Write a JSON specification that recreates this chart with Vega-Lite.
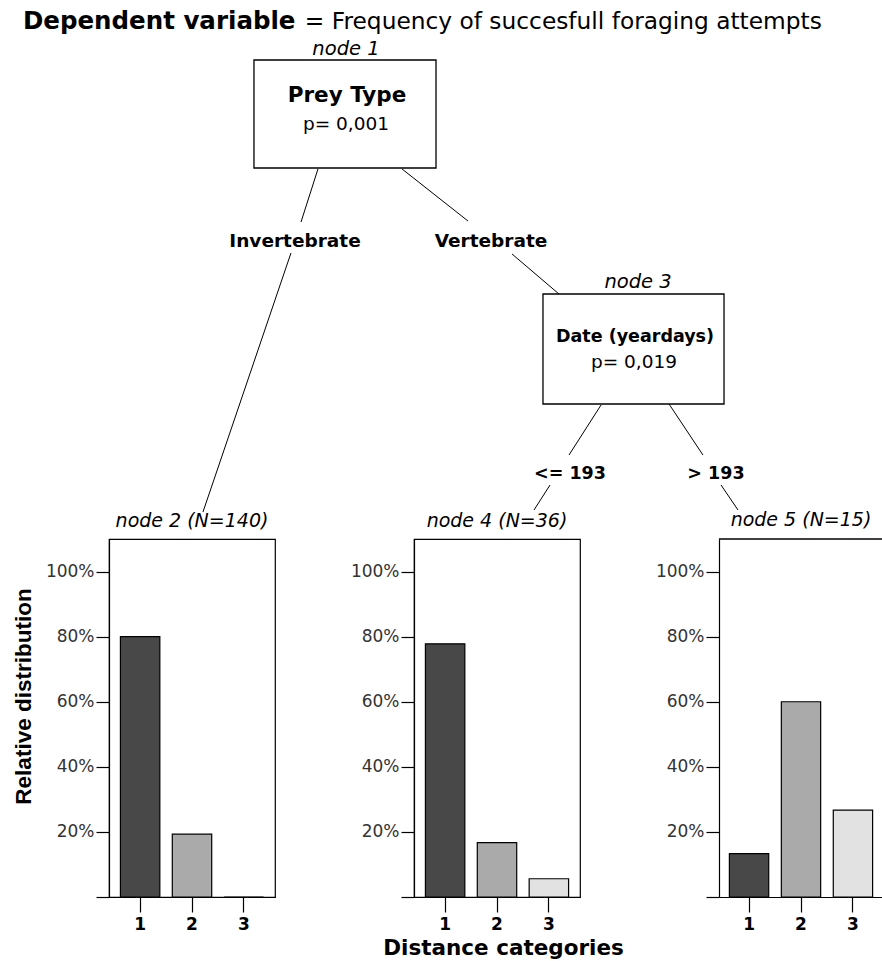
{
  "$schema": "https://vega.github.io/schema/vega-lite/v6.json",
  "background": "white",
  "padding": {"left": 11, "top": 0, "right": 0, "bottom": 0},
  "bounds": "flush",
  "spacing": 0,
  "config": {
    "font": "DejaVu Sans",
    "view": {"stroke": "#000", "strokeWidth": 1.2},
    "axis": {"grid": false}
  },
  "datasets": {
    "dist": [
      {"node": "node 2", "category": "1", "share": 0.80},
      {"node": "node 2", "category": "2", "share": 0.193},
      {"node": "node 2", "category": "3", "share": 0.0},
      {"node": "node 4", "category": "1", "share": 0.778},
      {"node": "node 4", "category": "2", "share": 0.167},
      {"node": "node 4", "category": "3", "share": 0.056},
      {"node": "node 5", "category": "1", "share": 0.133},
      {"node": "node 5", "category": "2", "share": 0.60},
      {"node": "node 5", "category": "3", "share": 0.267}
    ]
  },
  "vconcat": [
    {
      "width": 774,
      "height": 539,
      "view": {"stroke": null},
      "layer": [
        {
          "data": {"values": [
            {"edge": "1-2a", "u": 27.00, "v": 31.35, "u2": 24.81, "v2": 41.19},
            {"edge": "1-2b", "u": 23.51, "v": 46.94, "u2": 12.14, "v2": 94.99},
            {"edge": "1-3a", "u": 37.86, "v": 31.35, "u2": 46.38, "v2": 41.00},
            {"edge": "1-3b", "u": 52.07, "v": 47.12, "u2": 58.14, "v2": 54.55},
            {"edge": "3-4a", "u": 63.57, "v": 75.14, "u2": 59.43, "v2": 84.42},
            {"edge": "3-4b", "u": 56.98, "v": 89.98, "u2": 54.91, "v2": 94.62},
            {"edge": "3-5a", "u": 72.35, "v": 74.95, "u2": 76.74, "v2": 84.42},
            {"edge": "3-5b", "u": 79.07, "v": 89.98, "u2": 81.27, "v2": 94.62}
          ]},
          "mark": {"type": "rule", "color": "#000", "strokeWidth": 1},
          "encoding": {
            "x": {"field": "u", "type": "quantitative", "scale": {"domain": [0, 100], "nice": false, "zero": false}, "axis": null},
            "y": {"field": "v", "type": "quantitative", "scale": {"domain": [0, 100], "nice": false, "zero": false, "reverse": true}, "axis": null},
            "x2": {"field": "u2"},
            "y2": {"field": "v2"}
          }
        },
        {
          "data": {"values": [
            {"node": "node 1", "u": 18.73, "v": 11.13, "u2": 42.25, "v2": 31.17},
            {"node": "node 3", "u": 56.07, "v": 54.55, "u2": 79.46, "v2": 74.95}
          ]},
          "mark": {"type": "rect", "fill": "#fff", "stroke": "#000", "strokeWidth": 1.3},
          "encoding": {
            "x": {"field": "u", "type": "quantitative"},
            "y": {"field": "v", "type": "quantitative"},
            "x2": {"field": "u2"},
            "y2": {"field": "v2"}
          }
        },
        {
          "data": {"values": [{"label": "Dependent variable", "u": -11.11, "v": 5.38}]},
          "mark": {"type": "text", "font": "DejaVu Sans", "fontWeight": "bold", "fontSize": 24.5, "align": "left", "baseline": "alphabetic", "color": "#000"},
          "encoding": {
            "x": {"field": "u", "type": "quantitative"},
            "y": {"field": "v", "type": "quantitative"},
            "text": {"field": "label"}
          }
        },
        {
          "data": {"values": [{"label": "= Frequency of succesfull foraging attempts", "u": 25.3, "v": 5.38}]},
          "mark": {"type": "text", "font": "DejaVu Sans", "fontSize": 23.3, "align": "left", "baseline": "alphabetic", "color": "#000"},
          "encoding": {
            "x": {"field": "u", "type": "quantitative"},
            "y": {"field": "v", "type": "quantitative"},
            "text": {"field": "label"}
          }
        },
        {
          "data": {"values": [
            {"label": "node 1", "u": 30.62, "v": 10.20},
            {"label": "node 3", "u": 68.35, "v": 53.43}
          ]},
          "mark": {"type": "text", "font": "DejaVu Sans", "fontStyle": "italic", "fontSize": 19.5, "align": "center", "baseline": "alphabetic", "color": "#000"},
          "encoding": {
            "x": {"field": "u", "type": "quantitative"},
            "y": {"field": "v", "type": "quantitative"},
            "text": {"field": "label"}
          }
        },
        {
          "data": {"values": [{"label": "Prey Type", "u": 30.75, "v": 18.92}]},
          "mark": {"type": "text", "font": "DejaVu Sans", "fontWeight": "bold", "fontSize": 21.5, "align": "center", "baseline": "alphabetic", "color": "#000"},
          "encoding": {
            "x": {"field": "u", "type": "quantitative"},
            "y": {"field": "v", "type": "quantitative"},
            "text": {"field": "label"}
          }
        },
        {
          "data": {"values": [{"label": "Date (yeardays)", "u": 67.96, "v": 63.45}]},
          "mark": {"type": "text", "font": "DejaVu Sans", "fontWeight": "bold", "fontSize": 17.5, "align": "center", "baseline": "alphabetic", "color": "#000"},
          "encoding": {
            "x": {"field": "u", "type": "quantitative"},
            "y": {"field": "v", "type": "quantitative"},
            "text": {"field": "label"}
          }
        },
        {
          "data": {"values": [
            {"label": "p= 0,001", "u": 30.62, "v": 24.12},
            {"label": "p= 0,019", "u": 67.83, "v": 68.27}
          ]},
          "mark": {"type": "text", "font": "DejaVu Sans", "fontSize": 18.5, "align": "center", "baseline": "alphabetic", "color": "#000"},
          "encoding": {
            "x": {"field": "u", "type": "quantitative"},
            "y": {"field": "v", "type": "quantitative"},
            "text": {"field": "label"}
          }
        },
        {
          "data": {"values": [
            {"label": "Invertebrate", "u": 24.03, "v": 45.83},
            {"label": "Vertebrate", "u": 49.35, "v": 45.83}
          ]},
          "mark": {"type": "text", "font": "DejaVu Sans", "fontWeight": "bold", "fontSize": 18.5, "align": "center", "baseline": "alphabetic", "color": "#000"},
          "encoding": {
            "x": {"field": "u", "type": "quantitative"},
            "y": {"field": "v", "type": "quantitative"},
            "text": {"field": "label"}
          }
        },
        {
          "data": {"values": [
            {"label": "<= 193", "u": 59.56, "v": 88.8},
            {"label": "> 193", "u": 78.42, "v": 88.8}
          ]},
          "mark": {"type": "text", "font": "DejaVu Sans", "fontWeight": "bold", "fontSize": 17.5, "align": "center", "baseline": "alphabetic", "color": "#000"},
          "encoding": {
            "x": {"field": "u", "type": "quantitative"},
            "y": {"field": "v", "type": "quantitative"},
            "text": {"field": "label"}
          }
        }
      ]
    },
    {
      "bounds": "flush",
      "spacing": 139,
      "hconcat": [
        {
          "width": 166,
          "height": 358,
          "data": {"name": "dist"},
          "transform": [{"filter": "datum.node == 'node 2'"}],
          "title": {"text": "node 2 (N=140)", "font": "DejaVu Sans", "fontSize": 19, "fontStyle": "italic", "fontWeight": "normal", "color": "#000", "offset": 8},
          "mark": {"type": "bar", "stroke": "#000", "strokeWidth": 1.2},
          "encoding": {
            "x": {"field": "category", "type": "ordinal", "scale": {"paddingInner": 0.24, "paddingOuter": 0.22},
              "axis": {"title": null, "labelAngle": 0, "tickSize": 15, "tickColor": "#000", "tickWidth": 1.2, "domainColor": "#000", "domainWidth": 1.2, "labelFont": "DejaVu Sans", "labelFontWeight": "bold", "labelFontSize": 17, "labelColor": "#000", "labelPadding": 4}},
            "y": {"field": "share", "type": "quantitative", "scale": {"domain": [0, 1.1], "nice": false},
              "axis": {"values": [0, 0.2, 0.4, 0.6, 0.8, 1.0], "labelExpr": "datum.value == 0 ? '' : format(datum.value, '.0%')", "tickSize": 13, "tickColor": "#000", "tickWidth": 1.2, "domainColor": "#000", "domainWidth": 1.2, "labelFont": "DejaVu Sans", "labelFontSize": 17, "labelColor": "#333", "labelPadding": 2,
                "title": "Relative distribution", "titleFont": "Liberation Sans", "titleFontSize": 22.5, "titleFontWeight": "bold", "titleColor": "#000", "titleX": -86, "titleY": 157, "titleBaseline": "middle", "titleAlign": "center", "titleAngle": -90}},
            "color": {"field": "category", "type": "nominal", "scale": {"domain": ["1", "2", "3"], "range": ["#484848", "#aaaaaa", "#e2e2e2"]}, "legend": null}
          }
        },
        {
          "width": 166,
          "height": 358,
          "data": {"name": "dist"},
          "transform": [{"filter": "datum.node == 'node 4'"}],
          "title": {"text": "node 4 (N=36)", "font": "DejaVu Sans", "fontSize": 19, "fontStyle": "italic", "fontWeight": "normal", "color": "#000", "offset": 8},
          "mark": {"type": "bar", "stroke": "#000", "strokeWidth": 1.2},
          "encoding": {
            "x": {"field": "category", "type": "ordinal", "scale": {"paddingInner": 0.24, "paddingOuter": 0.22},
              "axis": {"title": "Distance categories", "titleFont": "DejaVu Sans", "titleFontSize": 21.5, "titleFontWeight": "bold", "titleColor": "#000", "titlePadding": 5, "titleX": 89, "labelAngle": 0, "tickSize": 15, "tickColor": "#000", "tickWidth": 1.2, "domainColor": "#000", "domainWidth": 1.2, "labelFont": "DejaVu Sans", "labelFontWeight": "bold", "labelFontSize": 17, "labelColor": "#000", "labelPadding": 4}},
            "y": {"field": "share", "type": "quantitative", "scale": {"domain": [0, 1.1], "nice": false},
              "axis": {"title": null, "values": [0, 0.2, 0.4, 0.6, 0.8, 1.0], "labelExpr": "datum.value == 0 ? '' : format(datum.value, '.0%')", "tickSize": 13, "tickColor": "#000", "tickWidth": 1.2, "domainColor": "#000", "domainWidth": 1.2, "labelFont": "DejaVu Sans", "labelFontSize": 17, "labelColor": "#333", "labelPadding": 2}},
            "color": {"field": "category", "type": "nominal", "scale": {"domain": ["1", "2", "3"], "range": ["#484848", "#aaaaaa", "#e2e2e2"]}, "legend": null}
          }
        },
        {
          "width": 164,
          "height": 358,
          "view": {"stroke": null},
          "title": {"text": "node 5 (N=15)", "font": "DejaVu Sans", "fontSize": 19, "fontStyle": "italic", "fontWeight": "normal", "color": "#000", "offset": 8},
          "layer": [
            {
              "data": {"name": "dist"},
              "transform": [{"filter": "datum.node == 'node 5'"}],
              "mark": {"type": "bar", "stroke": "#000", "strokeWidth": 1.2},
              "encoding": {
                "x": {"field": "category", "type": "ordinal", "scale": {"paddingInner": 0.243, "paddingOuter": 0.2, "align": 0.5},
                  "axis": {"title": null, "labelAngle": 0, "tickSize": 15, "tickColor": "#000", "tickWidth": 1.2, "domainColor": "#000", "domainWidth": 1.2, "labelFont": "DejaVu Sans", "labelFontWeight": "bold", "labelFontSize": 17, "labelColor": "#000", "labelPadding": 4}},
                "y": {"field": "share", "type": "quantitative", "scale": {"domain": [0, 1.1], "nice": false},
                  "axis": {"title": null, "values": [0, 0.2, 0.4, 0.6, 0.8, 1.0], "labelExpr": "datum.value == 0 ? '' : format(datum.value, '.0%')", "tickSize": 13, "tickColor": "#000", "tickWidth": 1.2, "domainColor": "#000", "domainWidth": 1.2, "labelFont": "DejaVu Sans", "labelFontSize": 17, "labelColor": "#333", "labelPadding": 2}},
                "color": {"field": "category", "type": "nominal", "scale": {"domain": ["1", "2", "3"], "range": ["#484848", "#aaaaaa", "#e2e2e2"]}, "legend": null}
              }
            },
            {
              "data": {"values": [{"edge": "top"}]},
              "mark": {"type": "rule", "color": "#000", "strokeWidth": 1.3},
              "encoding": {"y": {"datum": 1.1, "type": "quantitative"}}
            }
          ]
        }
      ]
    }
  ]
}
